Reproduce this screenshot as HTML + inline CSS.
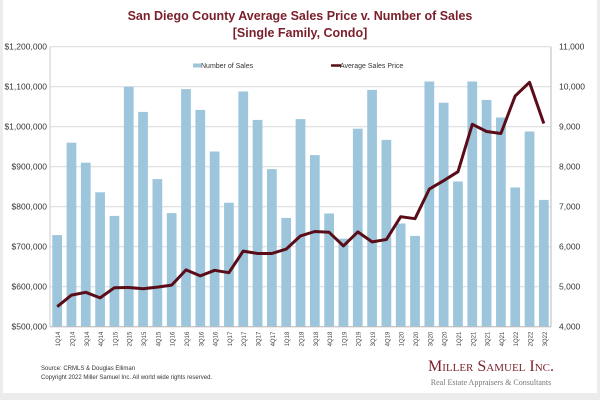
<!DOCTYPE html>
<html><head><meta charset="utf-8"><style>
html,body{margin:0;padding:0;background:#ececec;}
#card{position:absolute;left:3px;top:0;width:594px;height:393px;background:#fff;}
svg{position:absolute;left:0;top:0;}
text{font-family:"Liberation Sans",Arial,sans-serif;}
</style></head><body>
<div id="card"></div>
<svg id="chart" width="600" height="400"></svg>
<script>
const categories=["1Q14","2Q14","3Q14","4Q14","1Q15","2Q15","3Q15","4Q15","1Q16","2Q16","3Q16","4Q16","1Q17","2Q17","3Q17","4Q17","1Q18","2Q18","3Q18","4Q18","1Q19","2Q19","3Q19","4Q19","1Q20","2Q20","3Q20","4Q20","1Q21","2Q21","3Q21","4Q21","1Q22","2Q22","3Q22"];
const salesCounts=[6290,8600,8100,7360,6770,10000,9370,7690,6840,9940,9420,8380,7100,9880,9170,7940,6720,9190,8290,6830,6200,8950,9920,8670,6580,6270,10130,9600,7630,10130,9670,9230,7480,8880,7170];
const avgPrices=[550000,579000,586000,572000,597500,598000,595000,599000,604000,642000,627000,641000,635000,689000,683000,683000,694000,727000,738000,736000,702000,737000,712000,718000,775000,770000,844000,865000,887500,1006000,988000,983000,1077000,1111000,1008000];
const leftTicks=["$500,000","$600,000","$700,000","$800,000","$900,000","$1,000,000","$1,100,000","$1,200,000"];
const rightTicks=["4,000","5,000","6,000","7,000","8,000","9,000","10,000","11,000"];

const NS="http://www.w3.org/2000/svg";
const svg=document.getElementById('chart');
function mk(tag,attrs,txt){const e=document.createElementNS(NS,tag);for(const k in attrs)e.setAttribute(k,attrs[k]);if(txt!==undefined)e.textContent=txt;svg.appendChild(e);return e;}
const X0=50,X1=551,YT=46.7,YB=326.7;
const yP=v=>YB-(v-500000)/700000*(YB-YT);
const yS=v=>YB-(v-4000)/7000*(YB-YT);
const step=(X1-X0)/categories.length;
const xC=i=>X0+step*(i+0.5);

let t;
t=mk('text',{x:300,y:20,'text-anchor':'middle','font-size':12.5,'font-weight':'bold',fill:'#7a1f2b'},'San Diego County Average Sales Price v. Number of Sales');

t=mk('text',{x:300,y:37,'text-anchor':'middle','font-size':12.5,'font-weight':'bold',fill:'#7a1f2b'},'[Single Family, Condo]');


for(let i=0;i<leftTicks.length;i++){
  const y=YB-i*(YB-YT)/7;
  const g=mk('line',{x1:X0,x2:X1,y1:y,y2:y,stroke:'#d9d9d9','stroke-width':1});
  
  const l=mk('text',{x:X0-3,y:y+3,'text-anchor':'end','font-size':8.5,fill:'#333'},leftTicks[i]);
  
  const r=mk('text',{x:X1+8,y:y+3,'text-anchor':'start','font-size':8.5,fill:'#333'},rightTicks[i]);
  
}
let a=mk('line',{x1:X1,x2:X1,y1:YT,y2:YB,stroke:'#bbb'});

a=mk('line',{x1:X0,x2:X0,y1:YT,y2:YB,stroke:'#ccc'});


const bw=step*0.68;
salesCounts.forEach((v,i)=>{
  const y=yS(v);
  const b=mk('rect',{x:xC(i)-bw/2,y:y,width:bw,height:YB-y,fill:'#9dc6dd'});
  
  
});
a=mk('line',{x1:X0,x2:X1,y1:YB,y2:YB,stroke:'#bbb'});


const pts=avgPrices.map((v,i)=>xC(i).toFixed(1)+','+yP(v).toFixed(1)).join(' ');
const pl=mk('polyline',{points:pts,fill:'none',stroke:'#5a0d18','stroke-width':3,'stroke-linejoin':'round'});



categories.forEach((c,i)=>{
  const x=xC(i)+3,y=YB+5;
  const l=mk('text',{x:x,y:y,'text-anchor':'end','font-size':6,fill:'#444',transform:`rotate(-90 ${x} ${y})`},c);
  
  
});

let lg=mk('rect',{x:193,y:63.5,width:8,height:4,fill:'#9dc6dd'});

lg=mk('text',{x:201,y:68,'font-size':7,fill:'#333'},'Number of Sales');

lg=mk('line',{x1:331,x2:341,y1:65.5,y2:65.5,stroke:'#5a0d18','stroke-width':2.5});

lg=mk('text',{x:340,y:68,'font-size':7,fill:'#333'},'Average Sales Price');


t=mk('text',{x:41,y:370,'font-size':6,fill:'#333'},'Source: CRMLS & Douglas Elliman');

t=mk('text',{x:41,y:379,'font-size':6,fill:'#333'},'Copyright 2022 Miller Samuel Inc.  All world wide rights reserved.');

t=mk('text',{x:491,y:371,'text-anchor':'middle','font-size':16,fill:'#7a1f2b',style:'font-family:"Liberation Serif",serif;font-variant:small-caps'},'Miller Samuel Inc.');

t=mk('text',{x:491,y:385,'text-anchor':'middle','font-size':8,fill:'#777',style:'font-family:"Liberation Serif",serif'},'Real Estate Appraisers & Consultants');

</script>
</body></html>
